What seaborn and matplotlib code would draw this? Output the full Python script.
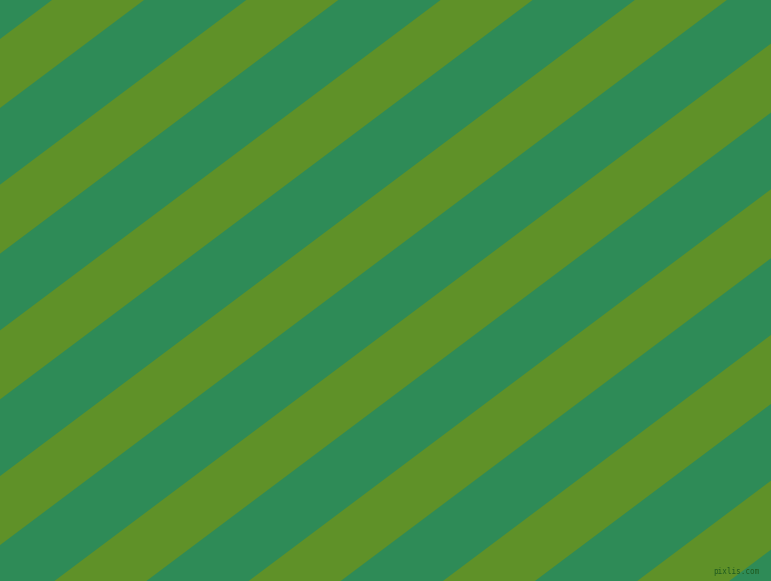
import numpy as np
import matplotlib
matplotlib.use("Agg")
import matplotlib.pyplot as plt
import seaborn as sns

# Farben der Streifen
farbe_grund = '#2e8b57'
farbe_streifen = '#5f9128'

# Streifen: Achsenabschnitt am linken Rand (Pixel) und Breite (vertikal)
streifen_start = [-106.7, 39.0, 184.7, 330.4, 476.1, 621.8, 767.5, 913.2, 1058.9, 1204.6]
streifen_breite = 69.0
steigung = 0.75

breite_px, hoehe_px = 771, 581

sns.set_style('white')
fig = plt.figure(figsize=(breite_px / 100, hoehe_px / 100), dpi=100, facecolor=farbe_grund)
ax = fig.add_axes([0, 0, 1, 1])
ax.set_facecolor(farbe_grund)

x = np.array([0, breite_px])
for b in streifen_start:
    ax.fill_between(x, b - steigung * x, b + streifen_breite - steigung * x,
                    color=farbe_streifen, linewidth=0)

ax.set_xlim(0, breite_px)
ax.set_ylim(hoehe_px, 0)
ax.axis('off')

ax.text(759, 576, 'pixlis.com', ha='right', va='bottom', fontsize=5.5,
        color='#1f5a1f', family='DejaVu Sans Mono')

fig.savefig('out.png', dpi=100, facecolor=farbe_grund)
